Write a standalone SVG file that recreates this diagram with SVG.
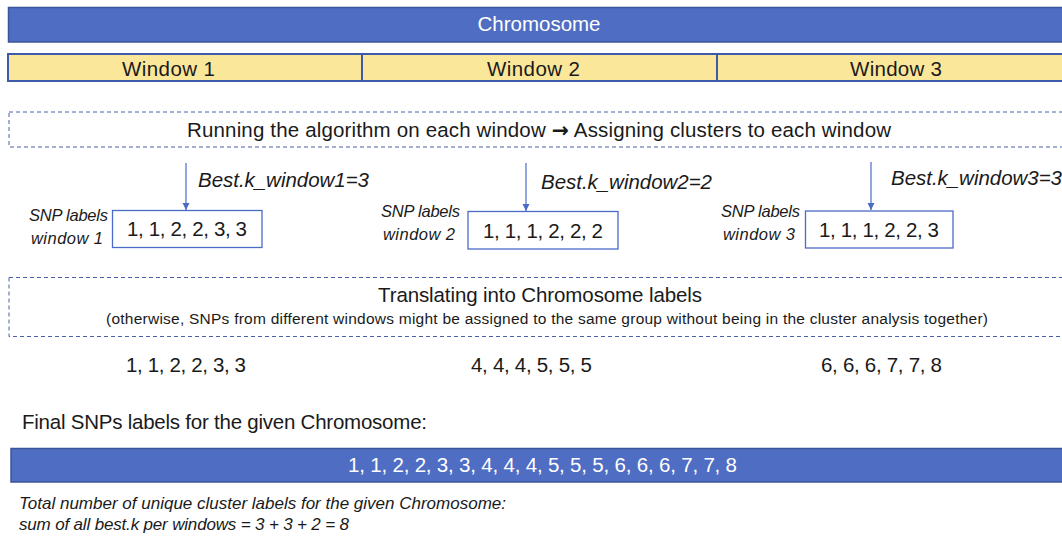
<svg xmlns="http://www.w3.org/2000/svg" width="1062" height="536" viewBox="0 0 1062 536">
<style>
text{font-family:"Liberation Sans",Arial,sans-serif;fill:#1a1a1a}
.main{font-size:20.5px}
.white{fill:#ffffff;font-size:20.5px}
.it{font-style:italic}
.small{font-size:15.5px}
.lbl{font-size:16.5px;font-style:italic}
.sum{font-size:17px;font-style:italic}
.sym{font-family:"DejaVu Sans",sans-serif;font-weight:bold}
.bar{fill:#4f6dc2;stroke:#3b5698;stroke-width:1.5}
.win{fill:#fae79a;stroke:#3f5aa8;stroke-width:2}
.dash{fill:none;stroke:#4a5fa8;stroke-width:1;stroke-dasharray:4 3}
.box{fill:#ffffff;stroke:#4a6bc6;stroke-width:1.3}
.arr{stroke:#4a6bc6;stroke-width:1.2;fill:none}
</style>
<defs>
<marker id="ah" markerUnits="userSpaceOnUse" markerWidth="8" markerHeight="8" refX="7" refY="4" orient="auto">
<path d="M0,0.5 L7,4 L0,7.5 Z" fill="#4a6bc6"/>
</marker>
</defs>

<g id="chromosome">
<rect class="bar" x="8.5" y="7.5" width="1065" height="34.5"/>
<text class="white" x="539" y="31" text-anchor="middle">Chromosome</text>
</g>

<g id="windows">
<rect class="win" x="8" y="54" width="354" height="27"/>
<rect class="win" x="362" y="54" width="355" height="27"/>
<rect class="win" x="717" y="54" width="356" height="27"/>
<text class="main" x="122" y="76" textLength="93">Window 1</text>
<text class="main" x="487" y="76" textLength="93">Window 2</text>
<text class="main" x="850" y="76" textLength="92">Window 3</text>
</g>

<g id="step-run">
<rect class="dash" x="9" y="112" width="1070" height="35"/>
<text class="main" x="187" y="137" textLength="704">Running the algorithm on each window <tspan class="sym">→</tspan> Assigning clusters to each window</text>
</g>

<g id="connectors">
<line class="arr" x1="186" y1="163" x2="186" y2="210" marker-end="url(#ah)"/>
<line class="arr" x1="526" y1="163" x2="526" y2="211" marker-end="url(#ah)"/>
<line class="arr" x1="871" y1="162" x2="871" y2="210" marker-end="url(#ah)"/>
</g>

<g id="bestk1">
<text class="main it" x="198" y="187" textLength="171">Best.k_window1=3</text>
</g>
<g id="bestk2">
<text class="main it" x="541" y="189" textLength="171">Best.k_window2=2</text>
</g>
<g id="bestk3">
<text class="main it" x="891" y="185" textLength="171">Best.k_window3=3</text>
</g>

<g id="snp-window1">
<text class="lbl" x="29" y="221" textLength="79">SNP labels</text>
<text class="lbl" x="31" y="244" textLength="72">window 1</text>
<rect class="box" x="112.5" y="210.5" width="149.5" height="37"/>
<text class="main" x="127" y="236" textLength="120">1, 1, 2, 2, 3, 3</text>
</g>

<g id="snp-window2">
<text class="lbl" x="381" y="217" textLength="79">SNP labels</text>
<text class="lbl" x="383" y="240" textLength="72">window 2</text>
<rect class="box" x="468" y="211.5" width="150" height="37.5"/>
<text class="main" x="483" y="238" textLength="120">1, 1, 1, 2, 2, 2</text>
</g>

<g id="snp-window3">
<text class="lbl" x="721" y="217" textLength="79">SNP labels</text>
<text class="lbl" x="723" y="240" textLength="72">window 3</text>
<rect class="box" x="805.5" y="211" width="147.5" height="37"/>
<text class="main" x="819" y="237" textLength="120">1, 1, 1, 2, 2, 3</text>
</g>

<g id="step-translate">
<rect class="dash" x="9" y="277.5" width="1070" height="59"/>
<text class="main" x="378" y="302" textLength="324">Translating into Chromosome labels</text>
<text class="small" x="106" y="324" textLength="882">(otherwise, SNPs from different windows might be assigned to the same group without being in the cluster analysis together)</text>
</g>

<g id="chrom-labels">
<text class="main" x="126" y="372" textLength="120">1, 1, 2, 2, 3, 3</text>
<text class="main" x="471" y="372" textLength="121">4, 4, 4, 5, 5, 5</text>
<text class="main" x="821" y="372" textLength="121">6, 6, 6, 7, 7, 8</text>
</g>

<g id="final">
<text class="main" x="22" y="429" textLength="405">Final SNPs labels for the given Chromosome:</text>
<rect class="bar" x="11" y="448.5" width="1065" height="33.5"/>
<text class="white" x="348" y="472" textLength="389">1, 1, 2, 2, 3, 3, 4, 4, 4, 5, 5, 5, 6, 6, 6, 7, 7, 8</text>
</g>

<g id="summary">
<text class="sum" x="19" y="509" textLength="487">Total number of unique cluster labels for the given Chromosome:</text>
<text class="sum" x="19" y="530" textLength="330">sum of all best.k per windows = 3 + 3 + 2 = 8</text>
</g>
</svg>
